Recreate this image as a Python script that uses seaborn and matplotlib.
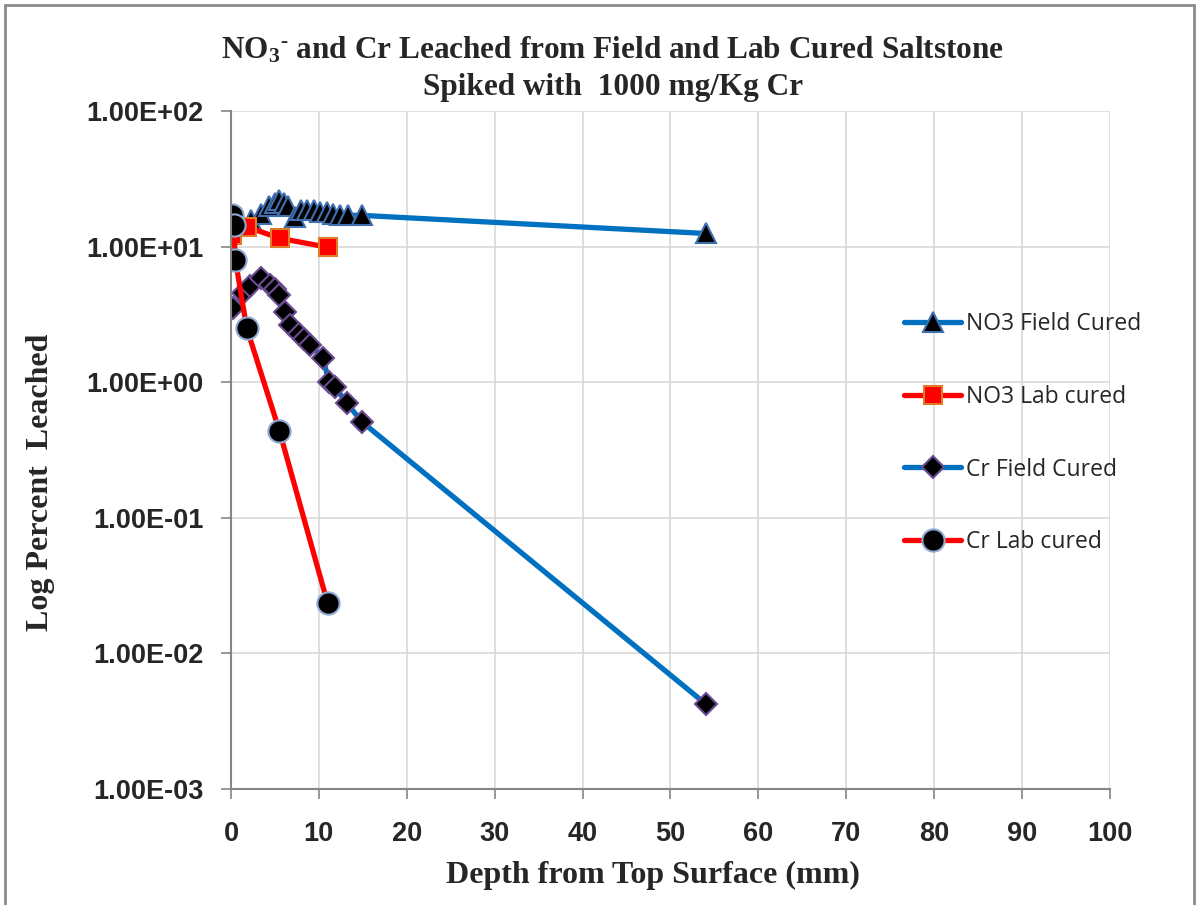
import numpy as np
import pandas as pd
import matplotlib
matplotlib.use("Agg")
import matplotlib.pyplot as plt
import seaborn as sns
from matplotlib.ticker import FixedLocator, FuncFormatter
from matplotlib.patches import Rectangle

# ---------------- data ----------------
no3_field_x = [0.5, 2.3, 3.4, 4.3, 5.0, 5.5, 6.0, 6.5, 7.3, 8.0, 8.7, 9.4, 10.1, 10.9, 11.6, 12.4, 13.3, 14.9, 54.0]
no3_field_y = [15.0, 15.7, 17.5, 20.0, 21.0, 22.0, 21.0, 20.0, 16.5, 18.5, 18.5, 18.5, 18.0, 18.0, 17.5, 17.0, 17.0, 17.0, 12.5]

no3_lab_x = [0.1, 1.8, 5.6, 11.0]
no3_lab_y = [12.2, 14.0, 11.5, 9.9]

cr_field_x = [0.23, 1.37, 2.16, 3.41, 4.44, 5.0, 5.46, 6.14, 6.71, 7.74, 8.31, 8.99, 10.47, 11.15, 11.83, 13.2, 14.9, 54.0]
cr_field_y = [3.52, 4.55, 5.13, 5.87, 5.21, 4.87, 4.40, 3.30, 2.64, 2.27, 2.08, 1.88, 1.51, 1.00, 0.92, 0.70, 0.51, 0.00424]

cr_lab_x = [0.1, 0.3, 0.5, 1.8, 5.5, 11.0]
cr_lab_y = [17.0, 14.5, 8.0, 2.5, 0.44, 0.0234]

series_names = ["NO3 Field Cured", "NO3 Lab cured", "Cr Field Cured", "Cr Lab cured"]
x_ticks = [0, 10, 20, 30, 40, 50, 60, 70, 80, 90, 100]
y_ticks = [1e-3, 1e-2, 1e-1, 1e0, 1e1, 1e2]

# ---------------- style ----------------
sns.set_theme(style="white")
plt.rcParams['font.family'] = ['Liberation Sans', 'DejaVu Sans']
plt.rcParams['mathtext.fontset'] = 'custom'
plt.rcParams['mathtext.rm'] = 'Liberation Serif:bold'
plt.rcParams['mathtext.it'] = 'Liberation Serif:bold'
plt.rcParams['mathtext.bf'] = 'Liberation Serif:bold'

fig = plt.figure(figsize=(12.01, 9.05), dpi=100)
ax = fig.add_axes([0.1923, 0.1282, 0.9242 - 0.1923, 0.8773 - 0.1282])

blue = "#0070C0"
red = "#FF0000"

specs = [
    (no3_field_x, no3_field_y, series_names[0], blue, "^", 14.5, "#3F6FAF"),
    (no3_lab_x, no3_lab_y, series_names[1], red, "s", 13.5, "#E07B28"),
    (cr_field_x, cr_field_y, series_names[2], blue, "D", 11.5, "#6A4C93"),
    (cr_lab_x, cr_lab_y, series_names[3], red, "o", 16, "#8EAAD0"),
]

for xs, ys, name, col, mk, ms, ec in specs:
    df = pd.DataFrame({"x": xs, "y": ys})
    mfc = "#FF0000" if mk == "s" else "black"
    sns.lineplot(data=df, x="x", y="y", ax=ax, sort=False, estimator=None,
                 color=col, linewidth=3.8, marker=mk, markersize=ms,
                 markerfacecolor=mfc, markeredgecolor=ec, markeredgewidth=1.5,
                 label=name)

ax.set_yscale("log")
ax.set_xlim(0, 100)
ax.set_ylim(1e-3, 1e2)
ax.xaxis.set_major_locator(FixedLocator(x_ticks))
ax.yaxis.set_major_locator(FixedLocator(y_ticks))
ax.yaxis.set_minor_locator(FixedLocator([]))
ax.yaxis.set_major_formatter(FuncFormatter(lambda v, p: f"{v:.2E}"))
ax.xaxis.set_major_formatter(FuncFormatter(lambda v, p: f"{int(v)}"))

ax.grid(True, which="major", color="#D9D9D9", linewidth=1.2)
for s in ["top", "right"]:
    ax.spines[s].set_visible(False)
for s in ["left", "bottom"]:
    ax.spines[s].set_color("#868686")
    ax.spines[s].set_linewidth(1.5)

ax.tick_params(axis="both", which="major", direction="out", length=7, width=1.2,
               color="#868686", labelsize=19.5)
ax.tick_params(axis="y", pad=13)
ax.tick_params(axis="x", pad=16)
ax.tick_params(axis="both", left=True, bottom=True)
for lab in ax.get_xticklabels() + ax.get_yticklabels():
    lab.set_fontweight("bold")

ax.set_xlabel("Depth from Top Surface (mm)", fontsize=23, fontweight="bold",
              family="Liberation Serif")
ax.xaxis.set_label_coords(0.48, -0.128)
ax.xaxis.label.set_va("center")
ax.set_ylabel("Log Percent  Leached", fontsize=23, fontweight="bold",
              family="Liberation Serif")
ax.yaxis.set_label_coords(-0.217, 0.453)
ax.yaxis.label.set_va("center")

fig.text(0.51, 0.945, "NO$_3$$^{\u2010}$ and Cr Leached from Field and Lab Cured Saltstone",
         ha="center", va="center", fontsize=22.5, fontweight="bold", family="Liberation Serif")
fig.text(0.51, 0.903, "Spiked with  1000 mg/Kg Cr",
         ha="center", va="center", fontsize=22.5, fontweight="bold", family="Liberation Serif")

leg = ax.legend(loc="upper left", bbox_to_anchor=(0.745, 0.665), bbox_transform=fig.transFigure,
                frameon=False, fontsize=16.5, handlelength=2.5, labelspacing=2.12,
                handletextpad=0.2, borderaxespad=0)
for t in leg.get_texts():
    t.set_family(["Open Sans", "DejaVu Sans"])

fig.add_artist(Rectangle((0.004, -0.01), 0.99, 1.004, transform=fig.transFigure,
                         fill=False, edgecolor="#8C8C8C", linewidth=2))

fig.savefig("out.png", dpi=100)
